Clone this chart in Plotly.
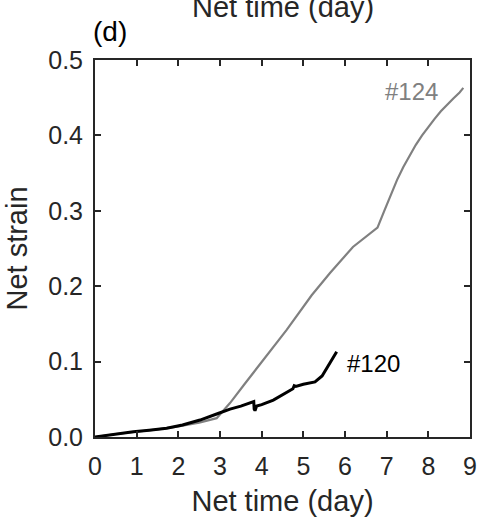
import plotly.graph_objects as go

# Sample #124 (gray)
t124 = [0, 0.5, 1.0, 1.5, 2.0, 2.5, 2.92, 3.24, 3.6, 4.0, 4.6, 5.2, 5.64, 6.19, 6.78,
        6.95, 7.1, 7.25, 7.4, 7.55, 7.7, 7.85, 8.0, 8.15, 8.3, 8.45, 8.6, 8.75, 8.84]
s124 = [0, 0.004, 0.007, 0.010, 0.014, 0.019, 0.025, 0.045, 0.071, 0.099, 0.142, 0.188, 0.2175, 0.252, 0.2776,
        0.301, 0.322, 0.341, 0.358, 0.3735, 0.3875, 0.400, 0.4115, 0.422, 0.432, 0.441, 0.449, 0.457, 0.463]

# Sample #120 (black)
t120 = [0, 0.5, 0.92, 1.3, 1.72, 2.1, 2.52, 2.92, 3.24, 3.5, 3.78, 3.81, 3.82, 3.84, 3.88, 4.0, 4.28, 4.5, 4.75, 4.78, 4.82, 5.0, 5.28, 5.45, 5.56, 5.7, 5.8]
s120 = [0, 0.004, 0.007, 0.009, 0.0115, 0.016, 0.0225, 0.0305, 0.037, 0.041, 0.0455, 0.047, 0.037, 0.035, 0.041, 0.043, 0.049, 0.056, 0.064, 0.068, 0.067, 0.070, 0.073, 0.081, 0.091, 0.102, 0.113]

x_ticks = [0, 1, 2, 3, 4, 5, 6, 7, 8, 9]
y_ticks = [0.0, 0.1, 0.2, 0.3, 0.4, 0.5]

FONT = "Liberation Sans, Arial, Helvetica, sans-serif"
AX = "#262626"

fig = go.Figure()
fig.add_trace(go.Scatter(x=t124, y=s124, mode="lines",
                         line=dict(color="#808080", width=2.2), showlegend=False))
fig.add_trace(go.Scatter(x=t120, y=s120, mode="lines",
                         line=dict(color="#000000", width=3), showlegend=False))

axis_common = dict(showgrid=False, zeroline=False, showline=True, linecolor=AX,
                   linewidth=2, mirror="ticks", ticks="inside", ticklen=6,
                   tickwidth=2, tickcolor=AX, automargin=False,
                   tickfont=dict(family=FONT, size=25, color=AX))

fig.update_xaxes(range=[0, 9], tickvals=x_ticks, ticktext=[str(v) for v in x_ticks],
                 ticklabelstandoff=6,
                 title=dict(text="Net time (day)", font=dict(family=FONT, size=29, color=AX), standoff=12),
                 **axis_common)
fig.update_yaxes(range=[0, 0.5], tickvals=y_ticks, ticktext=[f"{v:.1f}" for v in y_ticks],
                 ticklabelstandoff=5,
                 title=dict(text="Net strain", font=dict(family=FONT, size=29, color=AX), standoff=12),
                 **axis_common)

fig.add_annotation(x=8.28, y=0.458, xref="x", yref="y", text="#124", showarrow=False,
                   xanchor="right", yanchor="middle",
                   font=dict(family=FONT, size=24, color="#808080"))
fig.add_annotation(x=6.0, y=0.098, xref="x", yref="y", text="#120", showarrow=False,
                   xanchor="left", yanchor="middle",
                   font=dict(family=FONT, size=24, color="#000000"))
fig.add_annotation(x=-0.01, y=1.0745, xref="paper", yref="paper", text="(d)", showarrow=False,
                   xanchor="left", yanchor="middle",
                   font=dict(family=FONT, size=28, color="#000000"))
fig.add_annotation(x=0.5, y=1.140, xref="paper", yref="paper", text="Net time (day)", showarrow=False,
                   xanchor="center", yanchor="middle",
                   font=dict(family=FONT, size=29, color=AX))

fig.update_layout(width=479, height=518, margin=dict(l=95, r=9, t=60, b=81),
                  paper_bgcolor="white", plot_bgcolor="white",
                  font=dict(family=FONT, color=AX))

fig.write_html("out.html")
